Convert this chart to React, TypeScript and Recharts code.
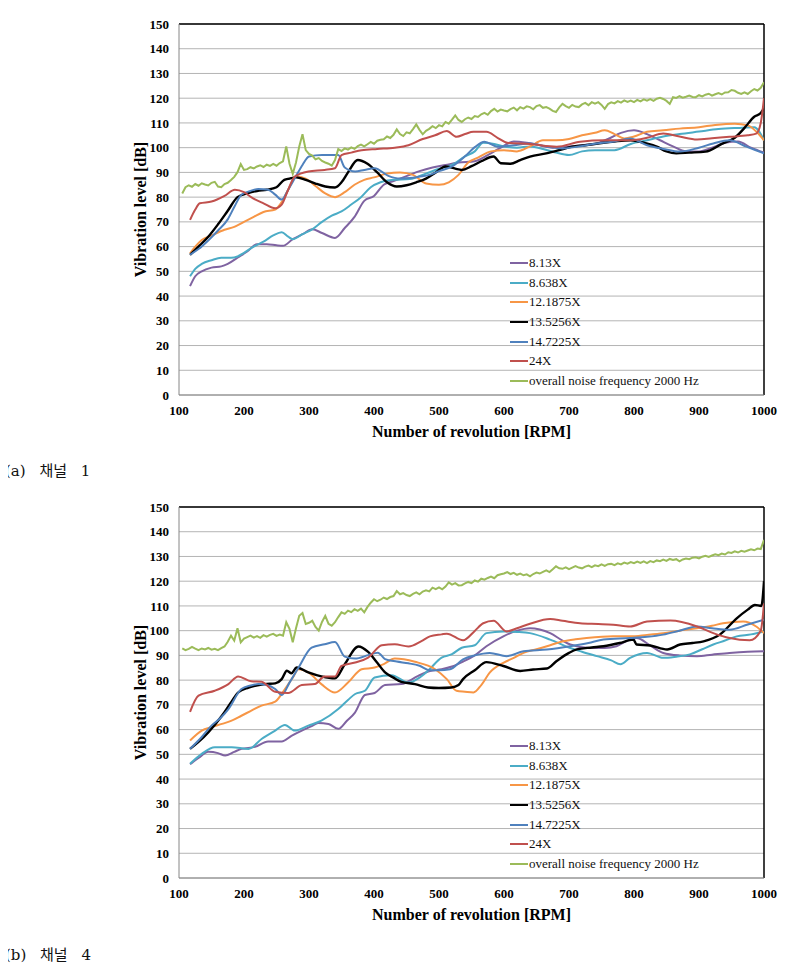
import React from "react";
import {
  CartesianGrid,
  Label,
  Legend,
  Line,
  LineChart,
  ReferenceLine,
  XAxis,
  YAxis,
} from "recharts";

type Pt = [number, number];

const RPM_TICKS = [100, 200, 300, 400, 500, 600, 700, 800, 900, 1000];
const DB_TICKS = [0, 10, 20, 30, 40, 50, 60, 70, 80, 90, 100, 110, 120, 130, 140, 150];

const SERIES_NAMES = ["8.13X", "8.638X", "12.1875X", "13.5256X", "14.7225X", "24X"];
const NOISE_NAME = "overall noise frequency 2000 Hz";

const COLORS = [
  "#7f63a1", // purple
  "#4bacc6", // teal
  "#f79646", // orange
  "#000000", // black
  "#4f81bd", // blue
  "#c0504d", // red
];
const NOISE_COLOR = "#9bbb59";

// noise level sampled every 5 RPM starting at 105
const NOISE_START = 105;
const NOISE_STEP = 5;

// --- (a) channel 1 ---
const ch1Order813: Pt[] = [
  [117, 44], [125, 48], [135, 50], [150, 51.5], [165, 52], [175, 53], [190, 55.5], [205, 58],
  [220, 61], [235, 61], [250, 60.5], [260, 60.3], [275, 63], [290, 65], [305, 67], [320, 65.5],
  [340, 63.5], [355, 67.5], [370, 72], [385, 78.5], [400, 80.5], [415, 85], [430, 86.5],
  [450, 88.5], [470, 90.5], [490, 92], [510, 93], [530, 94], [555, 94.5], [575, 97], [595, 100],
  [615, 102.5], [635, 102], [655, 101], [675, 100], [700, 100.5], [720, 101], [740, 101.5],
  [760, 103.5], [780, 106], [800, 107], [820, 105.5], [840, 103], [860, 100.5], [880, 98.5],
  [900, 98.5], [920, 100], [940, 102], [960, 102.5], [980, 100], [1000, 98],
];
const ch1Order8638: Pt[] = [
  [117, 48], [125, 51], [135, 53], [150, 54.5], [165, 55.5], [180, 55.5], [190, 56], [200, 57.5],
  [215, 60], [230, 62], [245, 64.5], [258, 65.8], [268, 64], [275, 63], [290, 65], [305, 67],
  [320, 70], [335, 72.5], [350, 74.2], [365, 77], [380, 80], [395, 84], [410, 86], [430, 87],
  [455, 87.3], [480, 89.5], [500, 91.5], [520, 93], [540, 96.5], [555, 98.5], [568, 102],
  [585, 101.5], [600, 100.5], [620, 100], [640, 100.5], [660, 99.5], [680, 98], [700, 97],
  [720, 98.5], [740, 99], [770, 99], [795, 101.5], [820, 103], [845, 104.5], [870, 105.5],
  [900, 106.5], [930, 107.5], [960, 108], [985, 108.3], [1000, 103],
];
const ch1Order121875: Pt[] = [
  [117, 57.3], [125, 60], [135, 62.7], [150, 64.5], [170, 66.8], [185, 68], [200, 70], [215, 72],
  [230, 74], [248, 75], [258, 78], [268, 83], [280, 88.3], [295, 87.5], [310, 84.5], [325, 81.5],
  [340, 80], [355, 82], [370, 85], [385, 87], [400, 88], [420, 89.5], [440, 90], [460, 89],
  [480, 85.5], [500, 85], [515, 86], [530, 89], [545, 94], [560, 96], [580, 98.5], [600, 99],
  [620, 98.5], [640, 100.5], [660, 103], [680, 103], [700, 103.5], [720, 105], [740, 106],
  [755, 107], [770, 105.5], [785, 103.7], [800, 104.5], [820, 106.4], [845, 107], [870, 107.7],
  [900, 108.3], [925, 109.2], [955, 109.7], [975, 109], [990, 106], [1000, 103],
];
const ch1Order135256: Pt[] = [
  [117, 56.7], [130, 60], [145, 64], [160, 69], [175, 74.5], [190, 80], [205, 81.5], [220, 82.5],
  [235, 83], [250, 84], [262, 87], [270, 87.5], [280, 88], [295, 87], [310, 85.5], [325, 84.3],
  [340, 83.9], [350, 86], [360, 90], [375, 95], [390, 93.5], [405, 90], [420, 86], [435, 84.3],
  [450, 84.8], [465, 86], [480, 87.5], [495, 90], [510, 92.4], [525, 91.5], [535, 91],
  [550, 92.5], [565, 94.5], [584, 96.4], [595, 93.7], [610, 93.5], [625, 95], [640, 96.4],
  [665, 97.7], [685, 99], [705, 100.4], [725, 101], [745, 101.7], [770, 102.5], [795, 103],
  [815, 102], [835, 100.4], [850, 98.5], [865, 97.7], [885, 98], [910, 98.4], [935, 101.5],
  [955, 104], [970, 108], [985, 112.5], [995, 114], [1000, 116],
];
const ch1Order147225: Pt[] = [
  [117, 56.7], [130, 59], [145, 62.5], [160, 66.5], [175, 71], [185, 76], [196, 81], [210, 82.5],
  [222, 83.3], [237, 83], [248, 81], [258, 79], [268, 83], [280, 88.5], [290, 93], [300, 96.4],
  [320, 97], [345, 97], [355, 92], [371, 90.4], [385, 91], [401, 91.7], [422, 88.6], [440, 87.5],
  [455, 87.7], [470, 88.3], [485, 89], [500, 90.5], [520, 92.4], [540, 96.5], [555, 100.2],
  [570, 102.4], [590, 100.4], [615, 101], [640, 101.7], [665, 100.5], [690, 99.7], [715, 100.5],
  [743, 101.7], [770, 102.5], [794, 103.7], [820, 101], [845, 99.5], [871, 98.4], [900, 100],
  [922, 101.7], [947, 103], [973, 100.4], [1000, 97.7],
];
const ch1Order24: Pt[] = [
  [117, 70.8], [125, 75], [132, 77.5], [150, 78.2], [170, 80.5], [186, 83], [200, 82], [211, 80],
  [230, 77.5], [248, 75.5], [258, 77], [268, 83], [278, 88.3], [299, 90.4], [324, 91], [340, 91.7],
  [350, 97], [365, 98], [381, 99], [405, 99.5], [432, 100], [453, 101], [475, 103.5], [494, 105],
  [512, 106.7], [527, 104.4], [540, 105.5], [553, 106.4], [573, 106.4], [590, 104], [605, 102],
  [640, 101.5], [681, 100.4], [717, 102.4], [755, 103], [794, 103], [820, 104], [845, 105.7],
  [870, 104.5], [897, 103.3], [920, 103.8], [947, 104.4], [975, 105], [988, 105.7], [995, 110],
  [1000, 120],
];
const ch1Noise = [
  81.5, 84, 84.8, 84.2, 85.3, 84.6, 85.6, 85.1, 84.7, 85.8,
  86.2, 84.3, 84, 85.3, 85.8, 86.9, 88.2, 90.1, 93.4, 91,
  91.3, 92.1, 91.6, 92.4, 92.9, 92.2, 93.1, 92.6, 93.4, 92.7,
  93.8, 94.5, 100.5, 93.5, 89.4, 94, 100.5, 105.4, 99, 97.5,
  96.8, 95.3, 95.8, 94.6, 94, 93.5, 92.7, 95, 99.4, 98.6,
  99.7, 99.2, 100.1, 99.5, 100.6, 101.2, 100.5, 101.4, 102.3, 101.6,
  102.8, 103.2, 103.4, 104.5, 103.9, 105.2, 107.4, 105.5, 104.7, 106.2,
  105.8, 107.5, 109.4, 107.2, 105.4, 106.8, 107.6, 108.7, 107.9, 109.1,
  108.6, 110.4, 109.7, 111.3, 113, 111.2, 110.4, 111.5, 112.2, 111.6,
  112.8, 112.4, 113.5, 114.1, 113.3, 114.8, 115.7, 114.6, 115.4, 115,
  114.7, 115.6, 116.2, 115.1, 116.4, 115.8, 116.7, 116.4, 115.5, 116.8,
  117.2, 116.1, 116.4, 115.8, 114.9, 114.4, 116.3, 117.7, 116.8, 116.1,
  117.3, 116.6, 116.4, 117.5, 118.1, 117.2, 118.4, 117.8, 118.4, 117.3,
  115.7, 117.6, 118.3, 117.9, 118.8, 118.2, 119.1, 118.5, 119, 118.4,
  119.3, 118.7, 119.5, 119, 119.6, 118.9, 119.8, 120.2, 119.7, 118.9,
  117.7, 120.4, 120.1, 120.8, 120.2, 120.6, 121.1, 120.5, 120.4, 121.2,
  120.7, 121.4, 121.8, 121, 121.6, 122.1, 121.5, 122.3, 122.4, 123.3,
  123, 122.2, 121.7, 122.4, 121.7, 122.8, 123.7, 123.1, 124.2, 126.4,
];

// --- (b) channel 4 ---
const ch4Order813: Pt[] = [
  [117, 46], [130, 48.5], [145, 51], [160, 50.5], [171, 49.5], [185, 51], [196, 52.2], [217, 53],
  [237, 55.2], [258, 55.2], [273, 57.5], [289, 59.6], [305, 61.5], [314, 62.7], [330, 62.3],
  [345, 60.3], [358, 63.5], [371, 67], [386, 74], [401, 74.8], [417, 78], [442, 78.4], [468, 81.7],
  [486, 83.7], [504, 84.4], [520, 85.5], [537, 87.5], [555, 90], [573, 93.7], [599, 97.7],
  [620, 100], [640, 101], [655, 100.5], [671, 99], [690, 96], [702, 94.4], [732, 93], [755, 93],
  [773, 93.7], [790, 96], [804, 97], [825, 94], [845, 91], [870, 90], [897, 89.7], [920, 90.3],
  [947, 91], [975, 91.5], [1000, 91.7],
];
const ch4Order8638: Pt[] = [
  [117, 46.2], [135, 50.2], [155, 52.9], [181, 52.9], [207, 52.2], [227, 56.2], [248, 59.6],
  [263, 61.9], [278, 59.6], [299, 61.6], [319, 63.6], [345, 68.3], [360, 72], [371, 74.4],
  [386, 75.7], [401, 81.1], [427, 82], [453, 79], [470, 81], [483, 83.8], [504, 89.1], [520, 90.5],
  [535, 93.1], [555, 94.1], [573, 99], [599, 99.7], [620, 99.5], [640, 99], [671, 96.4], [702, 93],
  [720, 91.5], [743, 89.7], [765, 88], [779, 86.4], [794, 89], [820, 91], [845, 89], [865, 89.5],
  [886, 90.4], [905, 92.5], [922, 94.4], [940, 96], [958, 97.7], [980, 98.5], [1000, 99.7],
];
const ch4Order121875: Pt[] = [
  [117, 55.6], [135, 59.6], [150, 61], [166, 62.3], [180, 63.5], [196, 65.6], [210, 67.5],
  [227, 69.7], [248, 71.3], [263, 76.4], [275, 81], [284, 84.4], [299, 83.1], [319, 78.4],
  [340, 75], [360, 79], [381, 84.4], [401, 85.1], [415, 86.5], [432, 88.7], [463, 87.4],
  [494, 84.4], [512, 80.4], [527, 75.7], [540, 75.3], [553, 75], [565, 78], [578, 83], [599, 87],
  [615, 89], [630, 91], [650, 92.5], [666, 93.7], [691, 95.7], [710, 96.5], [727, 97], [768, 97.7],
  [794, 97.7], [820, 98.3], [845, 99], [870, 100], [897, 101], [920, 102], [937, 103],
  [968, 103.7], [988, 101.7], [1000, 99],
];
const ch4Order135256: Pt[] = [
  [117, 52.2], [130, 55], [145, 58.9], [166, 65.6], [180, 71], [191, 75], [207, 77], [232, 78.4],
  [248, 78.7], [258, 80.4], [266, 83.8], [273, 82.8], [281, 85.1], [299, 83.1], [319, 81.5],
  [340, 80.7], [355, 86.4], [376, 93.6], [391, 91.4], [405, 87], [417, 83.1], [430, 81],
  [442, 79.3], [463, 78.4], [483, 77], [500, 76.8], [519, 77], [530, 78], [537, 80.4], [555, 84],
  [573, 87.3], [599, 85.7], [625, 83.7], [645, 84.3], [666, 84.7], [681, 87.7], [700, 91],
  [712, 92.4], [735, 93.2], [753, 93.7], [778, 95], [799, 96.4], [804, 94.4], [825, 94],
  [851, 92.4], [871, 94.4], [890, 95], [907, 95.7], [932, 98.4], [958, 105], [975, 108.5],
  [986, 110.4], [996, 110], [1000, 120],
];
const ch4Order147225: Pt[] = [
  [117, 52.2], [135, 57], [150, 61.6], [165, 65], [176, 68.3], [196, 76.4], [210, 77.8],
  [222, 78.4], [235, 78], [248, 76.4], [258, 74], [270, 79], [284, 85.1], [304, 93.1], [324, 94.5],
  [340, 95.4], [355, 89.5], [371, 88.7], [391, 90.1], [406, 91.1], [417, 88.5], [435, 87.5],
  [453, 86.8], [470, 85.8], [486, 84], [500, 84], [517, 84.4], [537, 88.4], [555, 90], [578, 91],
  [604, 89.7], [630, 91.7], [666, 92.4], [702, 93.7], [730, 95], [753, 96.4], [794, 97],
  [820, 97.5], [845, 98.4], [870, 100], [897, 101.7], [920, 101], [947, 100.4], [975, 102.5],
  [1000, 104.4],
];
const ch4Order24: Pt[] = [
  [117, 67.2], [130, 73.7], [155, 75.7], [176, 78.4], [191, 81.5], [211, 79.5], [227, 79.3],
  [248, 75.3], [268, 74.8], [289, 78], [309, 78.4], [324, 81.5], [340, 81.5], [350, 85.8],
  [371, 87.1], [391, 89.1], [412, 94.1], [432, 94.5], [453, 93.6], [473, 95.8], [486, 97.7],
  [504, 98.5], [512, 98.8], [537, 96.1], [555, 99.9], [568, 103], [584, 104], [604, 99.7],
  [620, 101], [640, 102.8], [671, 104.7], [690, 104], [717, 103], [745, 102.7], [768, 102.4],
  [794, 101.7], [820, 103.7], [856, 104.1], [897, 101.7], [922, 99], [947, 97], [978, 96.1],
  [995, 100], [1000, 111],
];
const ch4Noise = [
  92.8, 92.1, 92.6, 93.4, 92.7, 92.1, 92.8, 92.4, 93, 92.3,
  92.7, 92.1, 92.9, 93.6, 95.5, 98, 96, 101, 95.3, 96.8,
  97.4, 98, 97.2, 97.8, 97.1, 98.2, 97.6, 98.3, 98.7, 97.9,
  98.4, 98, 103.4, 100.7, 95.3, 101, 106, 107.1, 102.7, 103.2,
  104, 101.5, 100, 103.5, 106, 102.8, 102, 103.4, 105.5, 107.4,
  106.8, 108.1, 107.5, 108.7, 108, 108.9, 107.4, 109.6, 111.3, 112.7,
  111.9, 112.5, 113.4, 112.8, 113.6, 114, 116, 114.7, 115.2, 114.4,
  114, 114.9, 115.5, 114.7, 115.8, 116.3, 115.9, 117.4, 116.8, 117.5,
  116.7, 117.8, 119.5, 118.6, 119.2, 118.3, 118.4, 119.1, 119.7, 119.2,
  120.3, 119.8, 121, 120.6, 121.3, 121.9, 121.2, 122.4, 122.8, 123.1,
  123.7, 122.9, 123.4, 122.6, 123.1, 122.4, 122.8, 122, 122.9, 123.5,
  123.1, 123.8, 124.4, 123.7, 124.8, 126, 125.2, 125, 125.6, 124.9,
  125.5, 126.1, 125.5, 125.2, 125.9, 126.3, 125.7, 126.4, 126.1, 126.8,
  126.2, 126.9, 127, 126.5, 127.2, 126.8, 127.5, 127.1, 127.7, 127.3,
  127.9, 127.4, 128, 127.3, 128.1, 127.7, 128.4, 128.1, 128.7, 128.2,
  129, 128.6, 128.9, 128, 128.8, 129.2, 128.9, 129.5, 129.7, 129.2,
  129.9, 130.3, 129.8, 130.4, 130.9, 130.5, 131.2, 130.8, 131.7, 131.4,
  132.1, 131.6, 132.3, 131.9, 132.4, 132.9, 132.5, 133.2, 133, 136.7,
];

const SERIF = '"Liberation Serif", "Times New Roman", serif';

const toRows = (pts: Pt[]) => pts.map(([rpm, db]) => ({ rpm, db }));
const noiseRows = (values: number[]) =>
  values.map((db, i) => ({ rpm: NOISE_START + i * NOISE_STEP, db }));

// svg text in recharts otherwise ignores the family given on tick props
const CHART_CSS = `
.vib-chart svg text { font-family: "Liberation Serif", "Times New Roman", serif !important; }
`;

function ChartLegend() {
  const items = [
    ...SERIES_NAMES.map((name, i) => ({ name, color: COLORS[i] })),
    { name: NOISE_NAME, color: NOISE_COLOR },
  ];
  return (
    <div style={{ fontFamily: SERIF, fontSize: 13, color: "#111" }}>
      {items.map((item) => (
        <div
          key={item.name}
          style={{ display: "flex", alignItems: "center", height: 19.6, whiteSpace: "nowrap" }}
        >
          <span
            style={{
              display: "inline-block",
              width: 18,
              height: 2,
              background: item.color,
              marginRight: 1,
            }}
          />
          <span>{item.name}</span>
        </div>
      ))}
    </div>
  );
}

interface VibrationChartProps {
  orders: Pt[][];
  noise: number[];
}

function VibrationChart({ orders, noise }: VibrationChartProps) {
  const tick = { fill: "#000", fontSize: 13, fontWeight: 700, fontFamily: SERIF };
  return (
    <div className="vib-chart">
      <LineChart
        width={776}
        height={460}
        margin={{ top: 16, right: 20, bottom: 1, left: 93 }}
        style={{ fontFamily: SERIF }}
      >
        <CartesianGrid stroke="#b4b4b4" vertical={false} />
        <XAxis
          dataKey="rpm"
          type="number"
          domain={[100, 1000]}
          ticks={RPM_TICKS}
          allowDataOverflow
          stroke="#868686"
          tickLine={false}
          tickSize={0}
          tickMargin={11}
          tick={tick}
          height={72}
        >
          <Label
            value="Number of revolution [RPM]"
            position="center"
            style={{ fontSize: 16, fontWeight: 700, fill: "#000" }}
          />
        </XAxis>
        <YAxis
          dataKey="db"
          type="number"
          domain={[0, 150]}
          ticks={DB_TICKS}
          interval={0}
          stroke="#868686"
          tickLine={false}
          tickSize={0}
          tickMargin={10}
          tick={tick}
          width={78}
        >
          <Label
            value="Vibration level [dB]"
            angle={-90}
            position="center"
            style={{ fontSize: 16, fontWeight: 700, fill: "#000", textAnchor: "middle" }}
          />
        </YAxis>
        <ReferenceLine y={150} stroke="#000" strokeWidth={1.5} />
        <ReferenceLine x={1000} stroke="#000" strokeWidth={1.5} />
        {orders.map((pts, i) => (
          <Line
            key={SERIES_NAMES[i]}
            data={toRows(pts)}
            dataKey="db"
            name={SERIES_NAMES[i]}
            type="monotone"
            stroke={COLORS[i]}
            strokeWidth={i === 3 ? 2.4 : 2}
            dot={false}
            isAnimationActive={false}
          />
        ))}
        <Line
          data={noiseRows(noise)}
          dataKey="db"
          name={NOISE_NAME}
          type="linear"
          stroke={NOISE_COLOR}
          strokeWidth={2}
          dot={false}
          isAnimationActive={false}
        />
        <Legend
          layout="vertical"
          align="center"
          verticalAlign="middle"
          content={() => <ChartLegend />}
          wrapperStyle={{ left: 502, top: 245.5, width: 260, height: 140, bottom: "auto", right: "auto" }}
        />
      </LineChart>
    </div>
  );
}

const captionStyle: React.CSSProperties = {
  position: "absolute",
  left: -3,
  fontFamily: '"DejaVu Serif", "Noto Sans CJK KR", serif',
  fontSize: 15,
  lineHeight: "20px",
  wordSpacing: 9,
  color: "#111",
  whiteSpace: "pre",
};

export default function App() {
  return (
    <div style={{ position: "relative", width: 776, height: 955 }}>
      <style>{CHART_CSS}</style>
      <div style={{ position: "absolute", left: 0, top: 0 }}>
        <VibrationChart
          orders={[ch1Order813, ch1Order8638, ch1Order121875, ch1Order135256, ch1Order147225, ch1Order24]}
          noise={ch1Noise}
        />
      </div>
      <div style={{ ...captionStyle, top: 453 }}>(a) 채널 1</div>
      <div style={{ position: "absolute", left: 0, top: 483 }}>
        <VibrationChart
          orders={[ch4Order813, ch4Order8638, ch4Order121875, ch4Order135256, ch4Order147225, ch4Order24]}
          noise={ch4Noise}
        />
      </div>
      <div style={{ ...captionStyle, top: 937 }}>(b) 채널 4</div>
    </div>
  );
}
